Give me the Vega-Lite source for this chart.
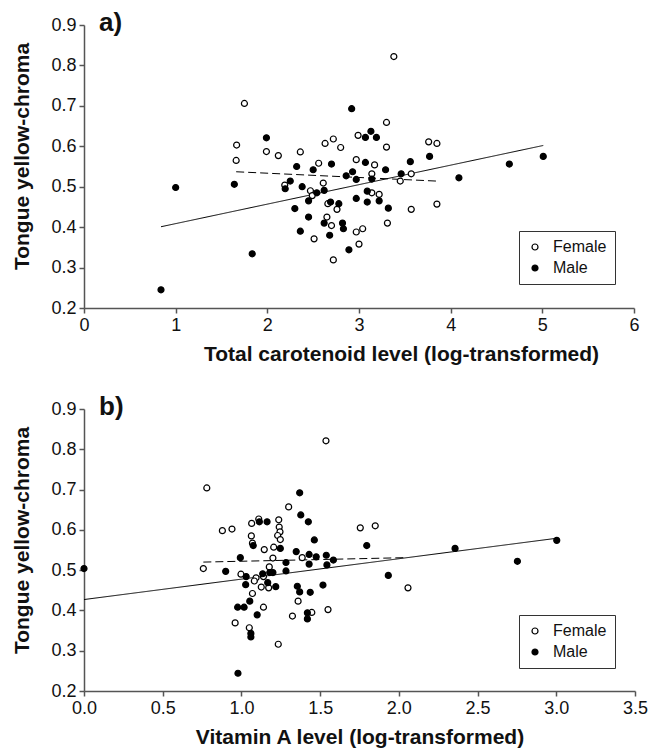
{
  "$schema": "https://vega.github.io/schema/vega-lite/v6.json",
  "padding": {"left": 11, "top": 10, "right": 5, "bottom": 5},
  "config": {
    "view": {"stroke": null},
    "font": "Liberation Sans",
    "axis": {
      "grid": false,
      "domainColor": "#555",
      "domainWidth": 1.5,
      "tickColor": "#555",
      "tickWidth": 1.5,
      "tickSize": 5,
      "labelFontSize": 18,
      "labelColor": "#111",
      "labelPadding": 3,
      "labelFlush": false,
      "labelOverlap": false,
      "titleFontSize": 21,
      "titleFontWeight": "bold",
      "titleColor": "#111"
    },
    "legend": {
      "labelFontSize": 16,
      "labelColor": "#111",
      "strokeColor": "#333",
      "fillColor": "white",
      "padding": 8,
      "rowPadding": 5,
      "symbolSize": 36,
      "symbolStrokeColor": "black",
      "symbolStrokeWidth": 1.2,
      "symbolType": "circle",
      "labelOffset": 10
    },
    "title": {"fontSize": 26, "fontWeight": "bold", "color": "#111", "anchor": "start", "frame": "group"}
  },
  "datasets": {
    "a_pts": [
      {"x": 1.75, "y": 0.706, "sex": "Female"},
      {"x": 1.665, "y": 0.603, "sex": "Female"},
      {"x": 1.66, "y": 0.565, "sex": "Female"},
      {"x": 1.99, "y": 0.587, "sex": "Female"},
      {"x": 2.12, "y": 0.577, "sex": "Female"},
      {"x": 2.36, "y": 0.586, "sex": "Female"},
      {"x": 2.63, "y": 0.607, "sex": "Female"},
      {"x": 2.72, "y": 0.618, "sex": "Female"},
      {"x": 2.80, "y": 0.597, "sex": "Female"},
      {"x": 2.99, "y": 0.627, "sex": "Female"},
      {"x": 2.97, "y": 0.567, "sex": "Female"},
      {"x": 2.56, "y": 0.558, "sex": "Female"},
      {"x": 3.38, "y": 0.822, "sex": "Female"},
      {"x": 3.30, "y": 0.659, "sex": "Female"},
      {"x": 3.30, "y": 0.598, "sex": "Female"},
      {"x": 3.76, "y": 0.611, "sex": "Female"},
      {"x": 3.85, "y": 0.607, "sex": "Female"},
      {"x": 3.17, "y": 0.554, "sex": "Female"},
      {"x": 2.19, "y": 0.504, "sex": "Female"},
      {"x": 2.47, "y": 0.49, "sex": "Female"},
      {"x": 2.61, "y": 0.509, "sex": "Female"},
      {"x": 2.49, "y": 0.478, "sex": "Female"},
      {"x": 2.51, "y": 0.371, "sex": "Female"},
      {"x": 2.65, "y": 0.425, "sex": "Female"},
      {"x": 2.70, "y": 0.404, "sex": "Female"},
      {"x": 2.72, "y": 0.319, "sex": "Female"},
      {"x": 2.66, "y": 0.458, "sex": "Female"},
      {"x": 2.76, "y": 0.444, "sex": "Female"},
      {"x": 2.97, "y": 0.388, "sex": "Female"},
      {"x": 3.0, "y": 0.358, "sex": "Female"},
      {"x": 3.14, "y": 0.532, "sex": "Female"},
      {"x": 3.57, "y": 0.532, "sex": "Female"},
      {"x": 3.45, "y": 0.514, "sex": "Female"},
      {"x": 3.14, "y": 0.485, "sex": "Female"},
      {"x": 3.22, "y": 0.481, "sex": "Female"},
      {"x": 3.57, "y": 0.444, "sex": "Female"},
      {"x": 3.85, "y": 0.457, "sex": "Female"},
      {"x": 3.31, "y": 0.41, "sex": "Female"},
      {"x": 3.04, "y": 0.396, "sex": "Female"},
      {"x": 2.92, "y": 0.693, "sex": "Male"},
      {"x": 1.99, "y": 0.621, "sex": "Male"},
      {"x": 2.32, "y": 0.55, "sex": "Male"},
      {"x": 2.70, "y": 0.556, "sex": "Male"},
      {"x": 2.50, "y": 0.542, "sex": "Male"},
      {"x": 3.13, "y": 0.637, "sex": "Male"},
      {"x": 3.07, "y": 0.622, "sex": "Male"},
      {"x": 3.19, "y": 0.622, "sex": "Male"},
      {"x": 3.77, "y": 0.575, "sex": "Male"},
      {"x": 3.56, "y": 0.562, "sex": "Male"},
      {"x": 3.07, "y": 0.56, "sex": "Male"},
      {"x": 3.29, "y": 0.542, "sex": "Male"},
      {"x": 4.64, "y": 0.556, "sex": "Male"},
      {"x": 5.01, "y": 0.575, "sex": "Male"},
      {"x": 2.93, "y": 0.537, "sex": "Male"},
      {"x": 1.0, "y": 0.498, "sex": "Male"},
      {"x": 1.64, "y": 0.506, "sex": "Male"},
      {"x": 0.84, "y": 0.245, "sex": "Male"},
      {"x": 1.835, "y": 0.334, "sex": "Male"},
      {"x": 2.25, "y": 0.514, "sex": "Male"},
      {"x": 2.195, "y": 0.495, "sex": "Male"},
      {"x": 2.38, "y": 0.50, "sex": "Male"},
      {"x": 2.54, "y": 0.485, "sex": "Male"},
      {"x": 2.62, "y": 0.491, "sex": "Male"},
      {"x": 2.45, "y": 0.465, "sex": "Male"},
      {"x": 2.30, "y": 0.446, "sex": "Male"},
      {"x": 2.45, "y": 0.425, "sex": "Male"},
      {"x": 2.36, "y": 0.39, "sex": "Male"},
      {"x": 2.62, "y": 0.41, "sex": "Male"},
      {"x": 2.68, "y": 0.38, "sex": "Male"},
      {"x": 2.69, "y": 0.462, "sex": "Male"},
      {"x": 2.78, "y": 0.458, "sex": "Male"},
      {"x": 2.82, "y": 0.41, "sex": "Male"},
      {"x": 2.83, "y": 0.396, "sex": "Male"},
      {"x": 2.89, "y": 0.344, "sex": "Male"},
      {"x": 2.97, "y": 0.471, "sex": "Male"},
      {"x": 2.86, "y": 0.527, "sex": "Male"},
      {"x": 2.97, "y": 0.518, "sex": "Male"},
      {"x": 3.14, "y": 0.519, "sex": "Male"},
      {"x": 3.46, "y": 0.532, "sex": "Male"},
      {"x": 4.09, "y": 0.522, "sex": "Male"},
      {"x": 3.09, "y": 0.489, "sex": "Male"},
      {"x": 3.09, "y": 0.462, "sex": "Male"},
      {"x": 3.22, "y": 0.465, "sex": "Male"},
      {"x": 3.32, "y": 0.447, "sex": "Male"}
    ],
    "a_lines": [
      {"x": 0.84, "y": 0.401, "fit": "All"},
      {"x": 5.01, "y": 0.602, "fit": "All"},
      {"x": 1.66, "y": 0.537, "fit": "Female"},
      {"x": 3.84, "y": 0.514, "fit": "Female"}
    ],
    "b_pts": [
      {"x": 1.537, "y": 0.821, "sex": "Female"},
      {"x": 0.78, "y": 0.704, "sex": "Female"},
      {"x": 1.30, "y": 0.657, "sex": "Female"},
      {"x": 0.879, "y": 0.598, "sex": "Female"},
      {"x": 0.94, "y": 0.602, "sex": "Female"},
      {"x": 0.758, "y": 0.504, "sex": "Female"},
      {"x": 0.96, "y": 0.369, "sex": "Female"},
      {"x": 1.11, "y": 0.627, "sex": "Female"},
      {"x": 1.065, "y": 0.616, "sex": "Female"},
      {"x": 1.237, "y": 0.625, "sex": "Female"},
      {"x": 1.24, "y": 0.607, "sex": "Female"},
      {"x": 1.245, "y": 0.595, "sex": "Female"},
      {"x": 1.063, "y": 0.585, "sex": "Female"},
      {"x": 1.23, "y": 0.586, "sex": "Female"},
      {"x": 1.247, "y": 0.576, "sex": "Female"},
      {"x": 1.145, "y": 0.551, "sex": "Female"},
      {"x": 1.205, "y": 0.557, "sex": "Female"},
      {"x": 1.386, "y": 0.531, "sex": "Female"},
      {"x": 1.20, "y": 0.53, "sex": "Female"},
      {"x": 1.177, "y": 0.508, "sex": "Female"},
      {"x": 0.997, "y": 0.49, "sex": "Female"},
      {"x": 1.093, "y": 0.481, "sex": "Female"},
      {"x": 1.14, "y": 0.484, "sex": "Female"},
      {"x": 1.126, "y": 0.458, "sex": "Female"},
      {"x": 1.082, "y": 0.473, "sex": "Female"},
      {"x": 1.173, "y": 0.456, "sex": "Female"},
      {"x": 1.36, "y": 0.423, "sex": "Female"},
      {"x": 1.07, "y": 0.442, "sex": "Female"},
      {"x": 1.14, "y": 0.408, "sex": "Female"},
      {"x": 1.324, "y": 0.386, "sex": "Female"},
      {"x": 1.447, "y": 0.395, "sex": "Female"},
      {"x": 1.55, "y": 0.402, "sex": "Female"},
      {"x": 1.05, "y": 0.357, "sex": "Female"},
      {"x": 1.234, "y": 0.316, "sex": "Female"},
      {"x": 1.755, "y": 0.605, "sex": "Female"},
      {"x": 1.85, "y": 0.61, "sex": "Female"},
      {"x": 2.058, "y": 0.456, "sex": "Female"},
      {"x": 1.07, "y": 0.567, "sex": "Female"},
      {"x": 1.37, "y": 0.692, "sex": "Male"},
      {"x": 1.377, "y": 0.637, "sex": "Male"},
      {"x": 0.0, "y": 0.504, "sex": "Male"},
      {"x": 0.90, "y": 0.497, "sex": "Male"},
      {"x": 0.978, "y": 0.244, "sex": "Male"},
      {"x": 1.425, "y": 0.62, "sex": "Male"},
      {"x": 1.114, "y": 0.62, "sex": "Male"},
      {"x": 1.163, "y": 0.62, "sex": "Male"},
      {"x": 1.463, "y": 0.575, "sex": "Male"},
      {"x": 1.075, "y": 0.561, "sex": "Male"},
      {"x": 1.247, "y": 0.554, "sex": "Male"},
      {"x": 1.348, "y": 0.546, "sex": "Male"},
      {"x": 1.43, "y": 0.539, "sex": "Male"},
      {"x": 1.475, "y": 0.533, "sex": "Male"},
      {"x": 1.539, "y": 0.537, "sex": "Male"},
      {"x": 1.584, "y": 0.525, "sex": "Male"},
      {"x": 1.543, "y": 0.513, "sex": "Male"},
      {"x": 1.43, "y": 0.515, "sex": "Male"},
      {"x": 1.283, "y": 0.519, "sex": "Male"},
      {"x": 1.283, "y": 0.498, "sex": "Male"},
      {"x": 0.993, "y": 0.531, "sex": "Male"},
      {"x": 1.03, "y": 0.484, "sex": "Male"},
      {"x": 1.135, "y": 0.491, "sex": "Male"},
      {"x": 1.167, "y": 0.469, "sex": "Male"},
      {"x": 1.218, "y": 0.459, "sex": "Male"},
      {"x": 1.027, "y": 0.464, "sex": "Male"},
      {"x": 1.355, "y": 0.46, "sex": "Male"},
      {"x": 1.37, "y": 0.446, "sex": "Male"},
      {"x": 1.437, "y": 0.445, "sex": "Male"},
      {"x": 1.518, "y": 0.463, "sex": "Male"},
      {"x": 1.053, "y": 0.423, "sex": "Male"},
      {"x": 0.976, "y": 0.408, "sex": "Male"},
      {"x": 1.017, "y": 0.408, "sex": "Male"},
      {"x": 1.10, "y": 0.389, "sex": "Male"},
      {"x": 1.419, "y": 0.394, "sex": "Male"},
      {"x": 1.419, "y": 0.379, "sex": "Male"},
      {"x": 1.06, "y": 0.343, "sex": "Male"},
      {"x": 1.06, "y": 0.334, "sex": "Male"},
      {"x": 1.796, "y": 0.561, "sex": "Male"},
      {"x": 1.933, "y": 0.487, "sex": "Male"},
      {"x": 2.357, "y": 0.554, "sex": "Male"},
      {"x": 2.753, "y": 0.522, "sex": "Male"},
      {"x": 3.003, "y": 0.574, "sex": "Male"},
      {"x": 1.18, "y": 0.494, "sex": "Male"},
      {"x": 1.20, "y": 0.494, "sex": "Male"}
    ],
    "b_lines": [
      {"x": 0.0, "y": 0.427, "fit": "All"},
      {"x": 3.0, "y": 0.579, "fit": "All"},
      {"x": 0.758, "y": 0.52, "fit": "Female"},
      {"x": 2.046, "y": 0.531, "fit": "Female"}
    ]
  },
  "vconcat": [
    {
      "width": 550,
      "height": 283,
      "title": {"text": "a)", "dx": 15, "dy": 20, "offset": 0},
      "layer": [
        {
          "data": {"name": "a_lines"},
          "mark": {"type": "line", "color": "black", "strokeWidth": 1},
          "encoding": {
            "x": {"field": "x", "type": "quantitative", "scale": {"domain": [0, 6], "nice": false}, "axis": {"title": "Total carotenoid level (log-transformed)", "values": [0, 1, 2, 3, 4, 5, 6], "format": "d", "titlePadding": 9, "titleX": 317}},
            "y": {"field": "y", "type": "quantitative", "scale": {"domain": [0.2, 0.9], "nice": false, "zero": false}, "axis": {"title": "Tongue yellow-chroma", "values": [0.2, 0.3, 0.4, 0.5, 0.6, 0.7, 0.8, 0.9], "format": ".1f", "titlePadding": 18, "titleY": 131}},
            "strokeDash": {"field": "fit", "type": "nominal", "scale": {"domain": ["All", "Female"], "range": [[1, 0], [8, 4]]}, "legend": null}
          }
        },
        {
          "data": {"name": "a_pts"},
          "mark": {"type": "point", "shape": "circle", "filled": true, "stroke": "black", "strokeWidth": 1.2, "size": 36, "opacity": 1},
          "encoding": {
            "x": {"field": "x", "type": "quantitative"},
            "y": {"field": "y", "type": "quantitative"},
            "fill": {"field": "sex", "type": "nominal", "scale": {"domain": ["Female", "Male"], "range": ["white", "black"]}, "legend": {"title": null, "orient": "none", "legendX": 435, "legendY": 206}}
          }
        }
      ]
    },
    {
      "width": 551,
      "height": 282,
      "title": {"text": "b)", "dx": 15, "dy": 20, "offset": 0},
      "layer": [
        {
          "data": {"name": "b_lines"},
          "mark": {"type": "line", "color": "black", "strokeWidth": 1},
          "encoding": {
            "x": {"field": "x", "type": "quantitative", "scale": {"domain": [0, 3.5], "nice": false}, "axis": {"title": "Vitamin A level (log-transformed)", "values": [0, 0.5, 1, 1.5, 2, 2.5, 3, 3.5], "format": ".1f", "titlePadding": 9}},
            "y": {"field": "y", "type": "quantitative", "scale": {"domain": [0.2, 0.9], "nice": false, "zero": false}, "axis": {"title": "Tongue yellow-chroma", "values": [0.2, 0.3, 0.4, 0.5, 0.6, 0.7, 0.8, 0.9], "format": ".1f", "titlePadding": 18, "titleY": 131}},
            "strokeDash": {"field": "fit", "type": "nominal", "scale": {"domain": ["All", "Female"], "range": [[1, 0], [8, 4]]}, "legend": null}
          }
        },
        {
          "data": {"name": "b_pts"},
          "mark": {"type": "point", "shape": "circle", "filled": true, "stroke": "black", "strokeWidth": 1.2, "size": 36, "opacity": 1},
          "encoding": {
            "x": {"field": "x", "type": "quantitative"},
            "y": {"field": "y", "type": "quantitative"},
            "fill": {"field": "sex", "type": "nominal", "scale": {"domain": ["Female", "Male"], "range": ["white", "black"]}, "legend": {"title": null, "orient": "none", "legendX": 435, "legendY": 206}}
          }
        }
      ]
    }
  ],
  "spacing": 30,
  "resolve": {"scale": {"fill": "independent", "strokeDash": "independent", "x": "independent", "y": "independent"}, "legend": {"fill": "independent"}}
}
